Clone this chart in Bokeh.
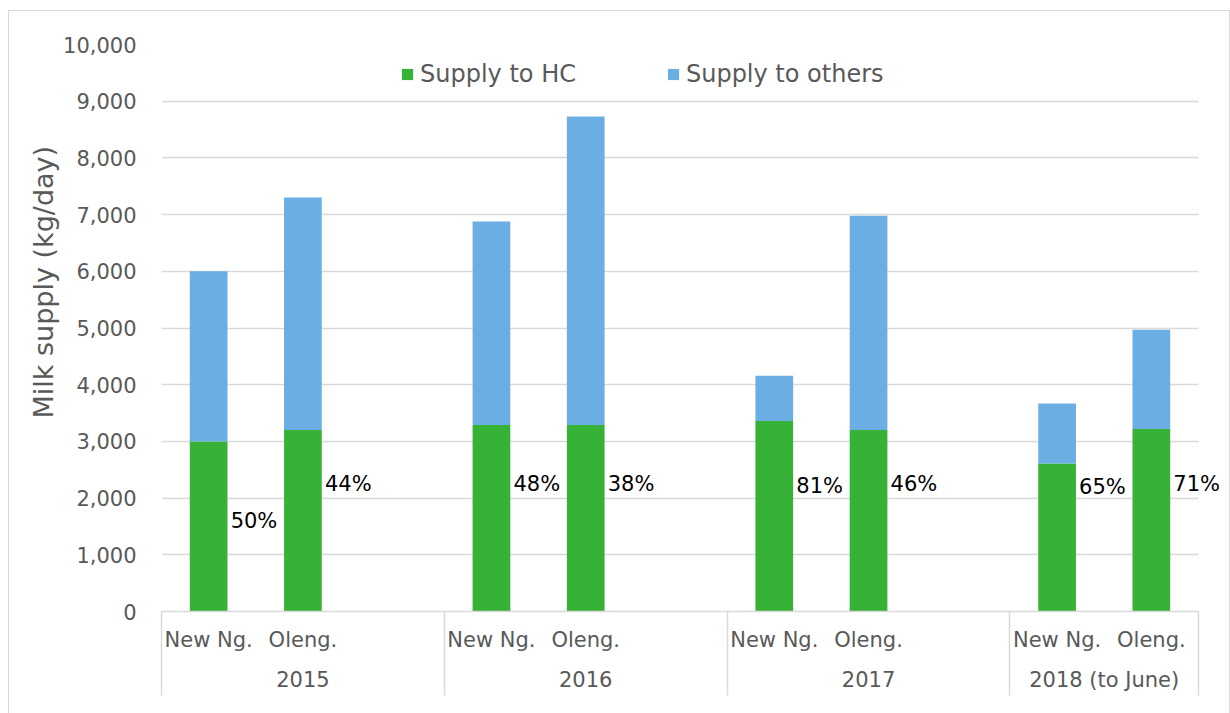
from bokeh.plotting import figure
from bokeh.models import (ColumnDataSource, FixedTicker, NumeralTickFormatter, Range1d,
                          LinearAxis, Legend, LegendItem, Title)
from bokeh.core.properties import value
from bokeh.embed import file_html
from bokeh.resources import INLINE

# ---- data ----
years = ["2015", "2016", "2017", "2018 (to June)"]
sites = ["New Ng.", "Oleng."]
supply_hc = [3000, 3200, 3290, 3290, 3360, 3200, 2610, 3220]
supply_others = [3000, 4100, 3590, 5440, 800, 3780, 1060, 1750]
pct_labels = ["50%", "44%", "48%", "38%", "81%", "46%", "65%", "71%"]
y_ticks = [0, 1000, 2000, 3000, 4000, 5000, 6000, 7000, 8000, 9000, 10000]

# label anchor heights (styling)
label_anchor = [1590, 2240, 2240, 2240, 2220, 2240, 2200, 2250]

FONT = "DejaVu Sans"
GRAY = "#595959"
GRID = "#d9d9d9"
GREEN = "#36b236"
BLUE = "#6aaee3"

# category slots: each year gets one slot per site plus an empty spacer slot (not after last)
slot = len(sites) + 1
bar_x, bar_site = [], []
group_centers, separators = [], []
for gi, y in enumerate(years):
    start = gi * slot
    n = len(sites) + (1 if gi < len(years) - 1 else 0)
    separators.append(start)
    group_centers.append(start + n / 2)
    for si, s in enumerate(sites):
        bar_x.append(start + si + 0.5)
        bar_site.append(s)
n_slots = (len(years) - 1) * slot + len(sites)
separators.append(n_slots)

src = ColumnDataSource(dict(x=bar_x, hc=supply_hc, others=supply_others,
                            pct=pct_labels, ly=label_anchor))

FRAME_W_PX = 1037          # width of the category area
EXTRA_PX = 31              # room to the right for the last data label
x_end = n_slots * (FRAME_W_PX + EXTRA_PX) / FRAME_W_PX

p = figure(x_range=Range1d(0, x_end), y_range=Range1d(0, 10000), width=1222, height=703,
           output_backend="svg", toolbar_location=None, x_axis_location=None,
           min_border_left=152, min_border_right=2, min_border_top=33, min_border_bottom=103)
p.margin = (10, 0, 0, 8)
p.styles = {"border-top": "1px solid #d9d9d9", "border-left": "1px solid #d9d9d9",
            "border-right": "1px solid #d9d9d9"}
p.outline_line_color = None

# horizontal gridlines limited to the category area
p.xgrid.grid_line_color = None
try:
    p.ygrid.cross_bounds = (0, n_slots)
    p.ygrid.grid_line_color = GRID
    p.ygrid.grid_line_width = 1.5
except AttributeError:
    p.ygrid.grid_line_color = None
    p.segment(x0=[0] * len(y_ticks), x1=[n_slots] * len(y_ticks), y0=y_ticks, y1=y_ticks,
              line_color=GRID, line_width=1.5)

r = p.vbar_stack(["hc", "others"], x="x", width=0.4, source=src,
                 color=[GREEN, BLUE], line_color=None)

p.text(x="x", y="ly", text="pct", source=src, x_offset=22, text_align="left",
       text_baseline="middle", text_font=value(FONT), text_font_size="21px",
       text_color="black")

# y axis
p.yaxis.ticker = FixedTicker(ticks=y_ticks)
p.yaxis.formatter = NumeralTickFormatter(format="0,0")
p.yaxis.axis_line_color = None
p.yaxis.major_tick_line_color = None
p.yaxis.minor_tick_line_color = None
p.yaxis.major_label_standoff = 19
p.yaxis.major_label_text_font = FONT
p.yaxis.major_label_text_font_size = "21px"
p.yaxis.major_label_text_color = GRAY

p.add_layout(Title(text="Milk supply (kg/day)", align="left", offset=193,
                   text_font=FONT, text_font_size="27px", text_font_style="normal",
                   text_color=GRAY, standoff=4), "left")

# x axis: site labels + separators
ax1 = LinearAxis(ticker=FixedTicker(ticks=bar_x, minor_ticks=separators),
                 major_label_overrides={x: s for x, s in zip(bar_x, bar_site)},
                 bounds=(0, n_slots))
ax1.axis_line_color = GRID
ax1.axis_line_width = 1.5
ax1.major_tick_line_color = None
ax1.minor_tick_line_color = GRID
ax1.minor_tick_line_width = 1.5
ax1.minor_tick_in = -84
ax1.minor_tick_out = 0
ax1.major_tick_in = 0
ax1.major_tick_out = 0
ax1.major_label_standoff = 16
ax1.major_label_text_font = FONT
ax1.major_label_text_font_size = "21px"
ax1.major_label_text_color = GRAY
p.add_layout(ax1, "below")

# x axis: year labels
ax2 = LinearAxis(ticker=FixedTicker(ticks=group_centers),
                 major_label_overrides={x: y for x, y in zip(group_centers, years)})
ax2.axis_line_color = None
ax2.major_tick_line_color = None
ax2.minor_tick_line_color = None
ax2.major_tick_in = 0
ax2.major_tick_out = 0
ax2.major_label_standoff = 13
ax2.major_label_text_font = FONT
ax2.major_label_text_font_size = "21px"
ax2.major_label_text_color = GRAY
p.add_layout(ax2, "below")

legend = Legend(items=[LegendItem(label="Supply to HC", renderers=[r[0]]),
                       LegendItem(label="Supply to others", renderers=[r[1]])],
                orientation="horizontal", location=(239, 523),
                glyph_width=14, glyph_height=14, label_standoff=6, spacing=90,
                padding=0, margin=0, border_line_color=None, background_fill_alpha=0,
                label_text_font=FONT, label_text_font_size="24px", label_text_color=GRAY)
p.add_layout(legend)

open("out.html", "w").write(file_html(p, INLINE))
